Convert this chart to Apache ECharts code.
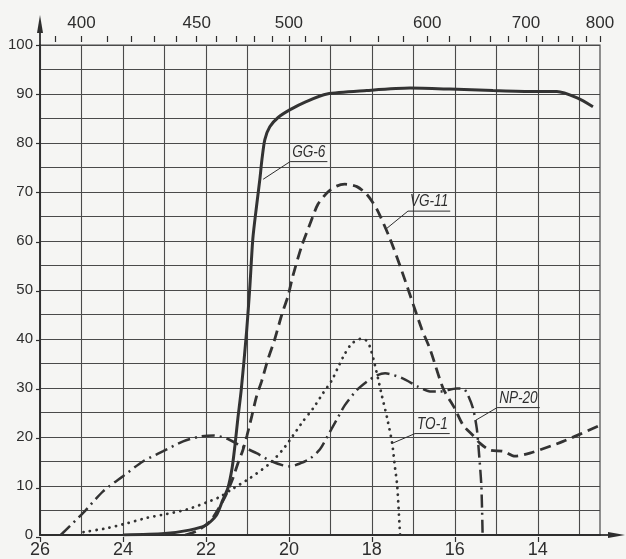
<!DOCTYPE html>
<html><head><meta charset="utf-8">
<script src="https://cdn.jsdelivr.net/npm/echarts@6/dist/echarts.min.js"></script>
<style>html,body{margin:0;padding:0;background:#f5f5f3}#c{width:626px;height:559px}</style>
</head><body><div id="c"></div>
<script>
// ---- data (x = wavenumber, 1000 cm^-1 ; y = transmittance %) ----
const gg6X = [24.0, 23.0, 22.4, 22.0, 21.75, 21.6, 21.47, 21.37, 21.3, 21.23, 21.15, 21.02, 20.94, 20.87, 20.78, 20.70, 20.65, 20.58, 20.46, 20.26, 19.97, 19.57, 19.08, 18.12, 17.08, 16.12, 15.08, 14.11, 13.54, 13.05, 12.67];
const gg6Y = [0, 0.3, 1, 2, 4, 7, 9.6, 13.6, 18.3, 23.8, 29.5, 41.5, 50.8, 60.4, 67.1, 72.6, 76.6, 80.7, 83.3, 85.2, 86.8, 88.5, 90, 90.7, 91.2, 91, 90.7, 90.5, 90.5, 89.2, 87.4];
const vg11X = [22.5, 22.22, 21.9, 21.66, 21.5, 21.35, 21.23, 21.11, 21.01, 20.89, 20.78, 20.66, 20.5, 20.35, 20.17, 20.02, 19.9, 19.69, 19.49, 19.3, 19.06, 18.85, 18.65, 18.36, 18.12, 17.88, 17.56, 17.27, 16.8, 16.6, 16.28, 16.0, 15.8, 15.56, 15.39, 15.15, 14.84, 14.55, 14.19, 13.39, 12.5];
const vg11Y = [0, 0.8, 2.8, 5.9, 8.5, 11.6, 14.6, 17.3, 20.3, 24.4, 28.3, 31.3, 36, 39.7, 45, 48.8, 53, 59, 63.5, 67.5, 70, 71.2, 71.6, 71.1, 69.5, 66.5, 60.4, 53.7, 42.1, 38, 29.9, 25.8, 22.4, 20.3, 18.7, 17.3, 17.1, 16.1, 16.7, 19.1, 22.4];
const np20X = [25.5, 24.96, 24.48, 24.0, 23.52, 23.03, 22.55, 22.14, 21.8, 21.5, 21.18, 20.78, 20.46, 20.14, 19.97, 19.73, 19.49, 19.25, 19.06, 18.85, 18.65, 18.37, 18.12, 17.9, 17.68, 17.27, 16.89, 16.6, 16.36, 15.95, 15.78, 15.68, 15.56, 15.47, 15.42, 15.36, 15.33];
const np20Y = [0, 4.5, 8.9, 12, 15, 17.1, 19.1, 20.1, 20.3, 19.7, 18.3, 16.7, 15.2, 14.2, 14, 14.6, 15.6, 17.5, 20.3, 23.5, 26.5, 29.5, 31.3, 32.5, 33, 32, 30.3, 29.3, 29.3, 29.9, 29.8, 28.5, 25.8, 21.7, 17, 10, 0];
const to1X = [24.95, 24.38, 23.9, 23.42, 22.94, 22.46, 21.97, 21.66, 21.42, 20.94, 20.46, 20.14, 19.9, 19.66, 19.42, 19.18, 18.97, 18.8, 18.65, 18.49, 18.29, 18.15, 18.05, 17.95, 17.85, 17.76, 17.63, 17.51, 17.44, 17.39, 17.32];
const to1Y = [0.6, 1.4, 2.4, 3.5, 4.3, 5.2, 6.7, 7.8, 9.1, 11.6, 14.6, 17.5, 20.3, 23.2, 25.8, 28.9, 31.5, 34.5, 37, 39, 40, 39.8, 38.5, 35.5, 31.9, 28.5, 23.8, 18.7, 13.6, 10.2, 0];

// ---- ticks ----
const bottomLabels = [26, 24, 22, 20, 18, 16, 14];
const gridColumns = [13, 14, 15, 16, 17, 18, 19, 20, 21, 22, 23, 24, 25, 26];
const yLabels = [0, 10, 20, 30, 40, 50, 60, 70, 80, 90, 100];
const topLabelNm = [400, 450, 500, 600, 700, 800];
const topTickNm = [390, 400, 410, 420, 430, 440, 450, 460, 470, 480, 490, 500, 510, 520, 540, 560, 580, 600, 620, 640, 660, 680, 700, 720, 740, 760, 780, 800];

// ---- curve labels ----
const curveNames = ['GG-6', 'VG-11', 'TO-1', 'NP-20'];
const labelTouch = [[20.62, 72.6], [17.68, 62.3], [17.51, 18.7], [15.50, 23.4]];
const labelAnchor = [[19.97, 76.2], [17.13, 66.1], [16.96, 20.7], [14.98, 26.0]];

const FONT = "'Liberation Sans', Arial, sans-serif";
const INK = '#2e2e2e';
const GRIDC = '#4a4a4a';
const toWN = nm => 10000 / nm;
const pairs = (xs, ys) => xs.map((x, i) => [x, ys[i]]);

const chart = echarts.init(document.getElementById('c'), null, {renderer: 'canvas'});
const xBase = {type: 'value', min: 12.5, max: 26, inverse: true};
const hidden = {axisLine: {show: false}, axisTick: {show: false}, axisLabel: {show: false}};
// tick-strip helper: an axis whose split lines act as short tick marks in a thin grid
const tickStripX = (gridIndex, values) => Object.assign({}, xBase, hidden, {
  gridIndex, axisTick: {show: false, customValues: values},
  splitLine: {show: true, lineStyle: {color: INK, width: 1.2}}
});
const option = {
  backgroundColor: '#f5f5f3',
  animation: false,
  grid: [
    {left: 40, right: 26, top: 45, bottom: 22, show: true, borderColor: GRIDC, borderWidth: 1.2, backgroundColor: 'transparent'},
    {left: 40, right: 26, top: 36, height: 6},
    {left: 40, right: 26, top: 537, height: 5},
    {left: 36, width: 4, top: 45, bottom: 22}
  ],
  xAxis: [
    Object.assign({}, xBase, {
      position: 'bottom',
      axisLine: {show: true, lineStyle: {color: INK, width: 1.8}},
      axisTick: {show: false},
      axisLabel: {customValues: bottomLabels, fontSize: 18, color: INK, margin: 6, fontFamily: FONT, showMinLabel: true, showMaxLabel: true},
      splitLine: {show: false}
    }),
    Object.assign({}, xBase, {
      position: 'top', offset: 3,
      axisLine: {show: false},
      axisTick: {show: false},
      axisLabel: {customValues: topLabelNm.map(toWN), formatter: v => String(Math.round(10000 / v)), fontSize: 17, color: INK, margin: 10, fontFamily: FONT, showMinLabel: true, showMaxLabel: true},
      splitLine: {show: false}
    }),
    Object.assign({}, xBase, hidden, {
      position: 'bottom',
      axisTick: {show: false, customValues: gridColumns},
      splitLine: {show: true, lineStyle: {color: GRIDC, width: 1.1}}
    }),
    tickStripX(1, topTickNm.map(toWN)),
    tickStripX(2, bottomLabels),
    Object.assign({}, xBase, hidden, {gridIndex: 3, splitLine: {show: false}})
  ],
  yAxis: [
    {type: 'value', min: 0, max: 100, position: 'left',
      axisLine: {show: true, lineStyle: {color: INK, width: 1.8}},
      axisTick: {show: false},
      axisLabel: {customValues: yLabels, fontSize: 15, color: INK, margin: 7, fontFamily: FONT},
      splitLine: {show: false}},
    Object.assign({type: 'value', min: 0, max: 100, interval: 5, position: 'left'}, hidden,
      {splitLine: {show: true, lineStyle: {color: GRIDC, width: 1.1}}}),
    Object.assign({type: 'value', min: 0, max: 1, gridIndex: 1}, hidden, {splitLine: {show: false}}),
    Object.assign({type: 'value', min: 0, max: 1, gridIndex: 2}, hidden, {splitLine: {show: false}}),
    Object.assign({type: 'value', min: 0, max: 100, gridIndex: 3}, hidden, {
      axisTick: {show: false, customValues: yLabels},
      splitLine: {show: true, lineStyle: {color: INK, width: 1.2}}})
  ],
  series: [
    {name: 'GG-6', type: 'line', data: pairs(gg6X, gg6Y), showSymbol: false, smooth: 0.25, z: 5,
      lineStyle: {color: '#333', width: 3, type: 'solid'}},
    {name: 'VG-11', type: 'line', data: pairs(vg11X, vg11Y), showSymbol: false, smooth: 0.25, z: 5,
      lineStyle: {color: '#333', width: 2.8, type: [11, 6]}},
    {name: 'NP-20', type: 'line', data: pairs(np20X, np20Y), showSymbol: false, smooth: 0.25, z: 5,
      lineStyle: {color: '#333', width: 2.5, type: [13, 5, 2, 5]}},
    {name: 'TO-1', type: 'line', data: pairs(to1X, to1Y), showSymbol: false, smooth: 0.25, z: 5,
      lineStyle: {color: '#333', width: 2.8, type: [0.1, 6.5], cap: 'round'}}
  ]
};
chart.setOption(option);

// ---- decorations: axis arrows and curve labels ----
const px = p => chart.convertToPixel({xAxisIndex: 0, yAxisIndex: 0}, p);
const origin = px([26, 0]);
const xEnd = px([12.5, 0]);
const yEnd = px([26, 100]);
const measure = document.createElement('canvas').getContext('2d');
const LABEL_FONT = "italic 17px 'Liberation Sans', Arial, sans-serif";
measure.font = LABEL_FONT;
const SX = 0.8;
const g = [];
g.push({type: 'line', shape: {x1: xEnd[0], y1: xEnd[1], x2: xEnd[0] + 14, y2: xEnd[1]}, style: {stroke: INK, lineWidth: 1.8}});
g.push({type: 'polygon', shape: {points: [[xEnd[0] + 8, xEnd[1] - 3], [xEnd[0] + 25, xEnd[1]], [xEnd[0] + 8, xEnd[1] + 3]]}, style: {fill: INK}});
g.push({type: 'line', shape: {x1: origin[0], y1: yEnd[1], x2: origin[0], y2: yEnd[1] - 20}, style: {stroke: INK, lineWidth: 1.8}});
g.push({type: 'polygon', shape: {points: [[origin[0] - 3, yEnd[1] - 12], [origin[0], yEnd[1] - 30], [origin[0] + 3, yEnd[1] - 12]]}, style: {fill: INK}});
curveNames.forEach((name, i) => {
  const a = px(labelTouch[i]);
  const b = px(labelAnchor[i]);
  const w = measure.measureText(name).width * SX + 4;
  g.push({type: 'polyline', shape: {points: [a, b, [b[0] + w, b[1]]]}, style: {stroke: INK, lineWidth: 1, fill: null}, z: 10});
  g.push({type: 'text', x: b[0] + 2, y: b[1] - 1, scaleX: SX, z: 10,
    style: {text: name, font: LABEL_FONT, fill: INK, align: 'left', verticalAlign: 'bottom'}});
});
chart.setOption({graphic: g});
</script>
</body></html>
